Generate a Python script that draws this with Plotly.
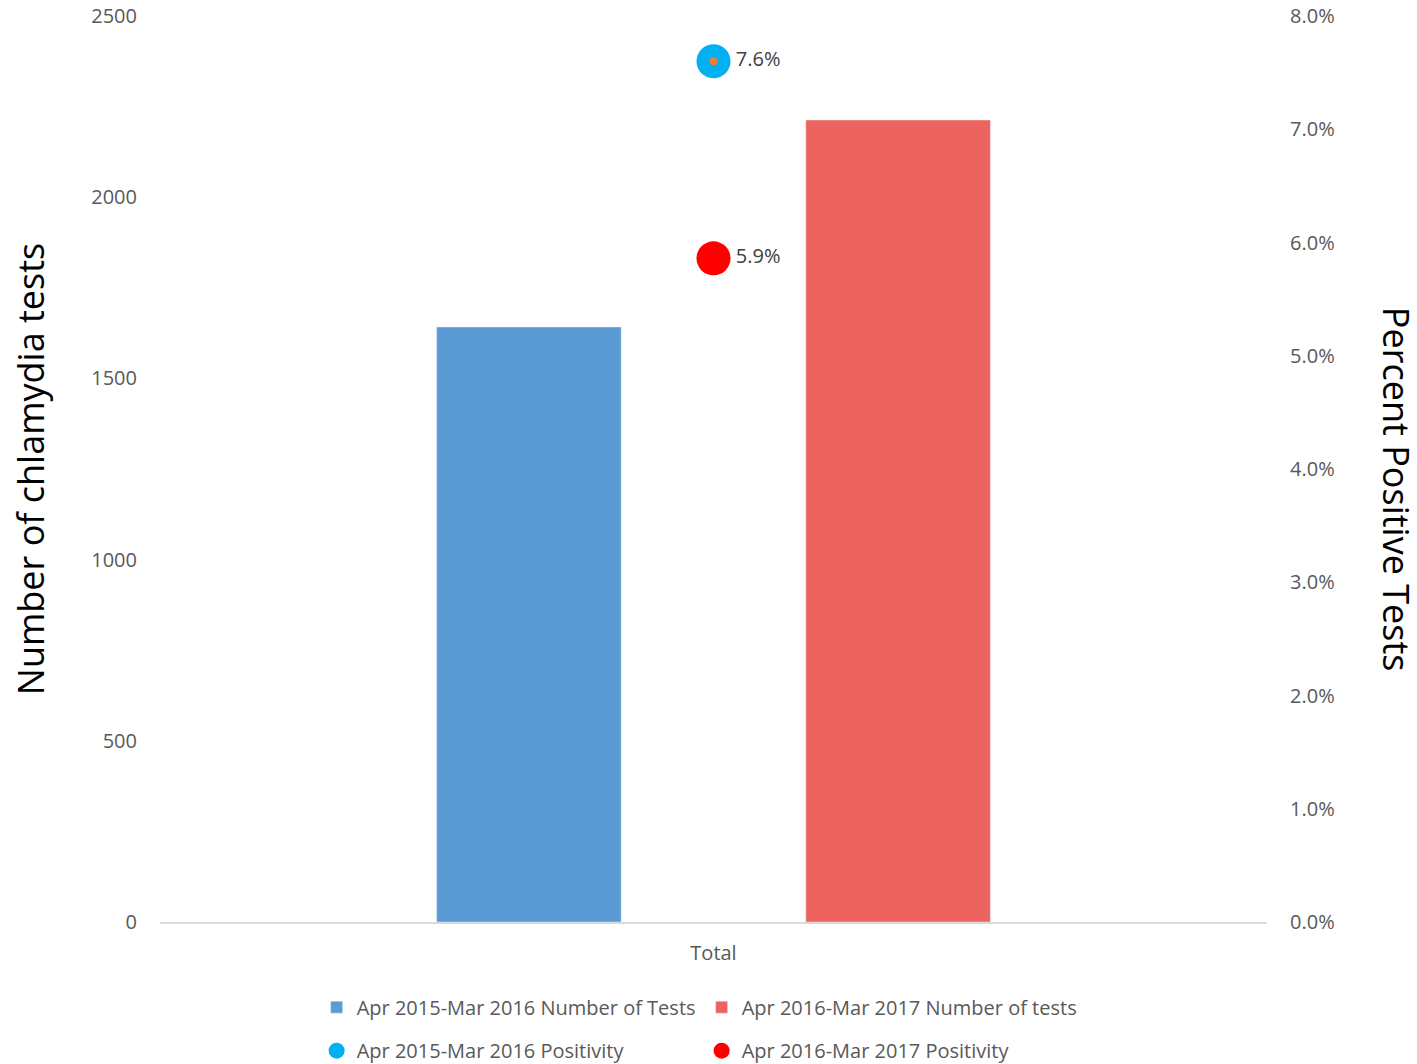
import plotly.graph_objects as go

categories = ["Total"]
tests_2015 = [1642]
tests_2016 = [2213]
pos_2015 = [0.076]
pos_2016 = [0.0586]
pos_2015_labels = ["7.6%"]
pos_2016_labels = ["5.9%"]
left_ticks = [0, 500, 1000, 1500, 2000, 2500]
right_ticks = [0.0, 0.01, 0.02, 0.03, 0.04, 0.05, 0.06, 0.07, 0.08]

FONT = "Open Sans"
TICK_COLOR = "#595959"

fig = go.Figure()
fig.add_trace(go.Bar(x=categories, y=tests_2015, name="Apr 2015-Mar 2016 Number of Tests",
                     marker_color="#5B9BD5", legend="legend"))
fig.add_trace(go.Bar(x=categories, y=tests_2016, name="Apr 2016-Mar 2017 Number of tests",
                     marker_color="#EC635F", legend="legend"))
fig.add_trace(go.Scatter(x=categories, y=pos_2015, yaxis="y2", mode="markers+text",
                         name="Apr 2015-Mar 2016 Positivity", text=pos_2015_labels,
                         textposition="middle right",
                         textfont=dict(size=20, color="#404040", family=FONT),
                         marker=dict(size=34, color="#00B0F0"), legend="legend2"))
fig.add_trace(go.Scatter(x=categories, y=pos_2015, yaxis="y2", mode="markers",
                         showlegend=False, hoverinfo="skip",
                         marker=dict(size=8, color="#ED7D31")))
fig.add_trace(go.Scatter(x=categories, y=pos_2016, yaxis="y2", mode="markers+text",
                         name="Apr 2016-Mar 2017 Positivity", text=pos_2016_labels,
                         textposition="middle right",
                         textfont=dict(size=20, color="#404040", family=FONT),
                         marker=dict(size=34, color="#FF0000"), legend="legend2"))

fig.update_layout(
    width=1417, height=1064,
    margin=dict(l=160, r=150, t=16, b=142, autoexpand=False),
    paper_bgcolor="white", plot_bgcolor="white",
    barmode="group", bargap=0.333, bargroupgap=0.5,
    font=dict(family=FONT, size=20, color=TICK_COLOR),
    xaxis=dict(showgrid=False, showline=True, linecolor="#D9D9D9", linewidth=1.5,
               ticks="", tickfont=dict(size=20, color=TICK_COLOR), ticklabelstandoff=12,
               automargin=False),
    yaxis=dict(range=[0, 2500], tickvals=left_ticks, showgrid=False, zeroline=False,
               showline=False, ticks="", tickfont=dict(size=20, color=TICK_COLOR),
               ticklabelstandoff=22, automargin=False,
               title=dict(text="Number of chlamydia tests", font=dict(size=36, color="black"),
                          standoff=35)),
    yaxis2=dict(range=[0, 0.08], tickvals=right_ticks, tickformat=".1%", overlaying="y",
                side="right", showgrid=False, zeroline=False, showline=False, ticks="",
                tickfont=dict(size=20, color=TICK_COLOR), ticklabelstandoff=22,
                automargin=False),
    legend=dict(orientation="h", x=0.1415, xanchor="left", y=-0.094, yanchor="middle",
                font=dict(size=20, color=TICK_COLOR), entrywidth=340, itemwidth=30,
                tracegroupgap=0),
    legend2=dict(orientation="h", x=0.1415, xanchor="left", y=-0.142, yanchor="middle",
                 font=dict(size=20, color=TICK_COLOR), entrywidth=340, itemwidth=30),
    showlegend=True,
)

fig.add_annotation(text="Percent Positive Tests", textangle=90, xref="paper", yref="paper",
                   x=1.1165, y=0.477, xanchor="center", yanchor="middle", showarrow=False,
                   font=dict(size=36, color="black", family=FONT))

fig.write_html("out.html", config={"displayModeBar": False},
               post_script="document.body.style.margin='0';document.body.style.padding='0';")
